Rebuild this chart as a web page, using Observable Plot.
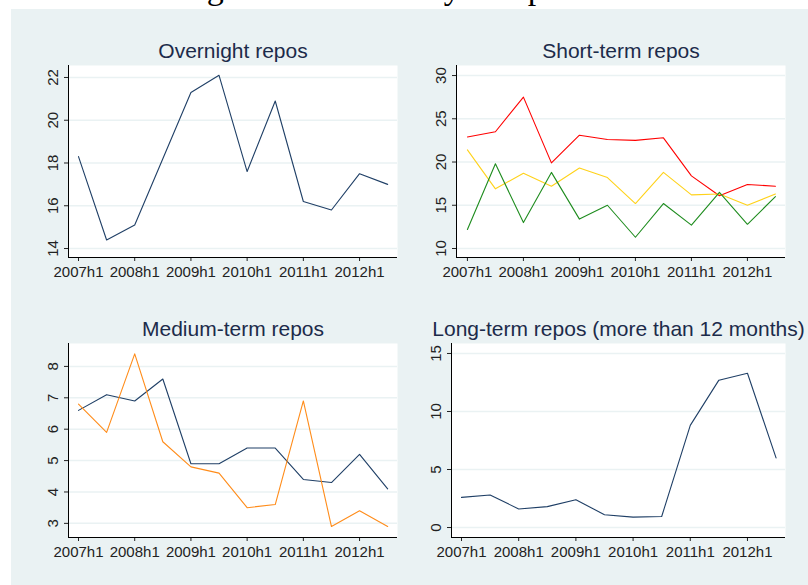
<!DOCTYPE html>
<html><head><meta charset="utf-8">
<script src="https://cdn.jsdelivr.net/npm/d3@7"></script>
<script src="https://cdn.jsdelivr.net/npm/@observablehq/plot@0.6"></script>
<style>
html,body{margin:0;padding:0;background:#fff;width:808px;height:585px;overflow:hidden;position:relative;font-family:"Liberation Sans",Arial,sans-serif}
#head{position:absolute;left:135px;top:-29px;font:34px/34px "Liberation Serif","Times New Roman",serif;color:#000;white-space:nowrap}
#bg{position:absolute;left:11px;top:9px;right:0;bottom:0;background:#eaf2f3}
.panel{position:absolute}
</style></head><body>
<div id="bg"></div>
<div id="head">Changes in the maturity composition</div>
<div id="p1" class="panel" style="left:0;top:20px"></div>
<div id="p2" class="panel" style="left:404px;top:20px"></div>
<div id="p3" class="panel" style="left:0;top:300px"></div>
<div id="p4" class="panel" style="left:404px;top:300px"></div>
<script>
const periods = ["2007h1","2007h2","2008h1","2008h2","2009h1","2009h2","2010h1","2010h2","2011h1","2011h2","2012h1","2012h2"];
const xTickLabels = ["2007h1","2008h1","2009h1","2010h1","2011h1","2012h1"];

const overnight    = [18.3, 14.4, 15.1, 18.2, 21.3, 22.1, 17.6, 20.9, 16.2, 15.8, 17.5, 17.0];
const shortRed     = [22.9, 23.5, 27.5, 19.9, 23.1, 22.6, 22.5, 22.8, 18.4, 16.1, 17.4, 17.2];
const shortYellow  = [21.4, 16.9, 18.7, 17.2, 19.3, 18.2, 15.2, 18.8, 16.2, 16.3, 15.0, 16.3];
const shortGreen   = [12.2, 19.8, 13.0, 18.8, 13.4, 15.0, 11.3, 15.2, 12.7, 16.5, 12.8, 16.0];
const mediumNavy   = [6.6, 7.1, 6.9, 7.6, 4.9, 4.9, 5.4, 5.4, 4.4, 4.3, 5.2, 4.1];
const mediumOrange = [6.8, 5.9, 8.4, 5.6, 4.8, 4.6, 3.5, 3.6, 6.9, 2.9, 3.4, 2.9];
const longTerm     = [2.6, 2.8, 1.6, 1.8, 2.4, 1.1, 0.9, 0.95, 8.8, 12.7, 13.3, 6.0];

const titles = ["Overnight repos", "Short-term repos", "Medium-term repos", "Long-term repos (more than 12 months)"];
const yTicks1 = [14, 16, 18, 20, 22];
const yTicks2 = [10, 15, 20, 25, 30];
const yTicks3 = [3, 4, 5, 6, 7, 8];
const yTicks4 = [0, 5, 10, 15];

const NAVY = "#1f3f66", RED = "#ff0000", GOLD = "#ffd21a", GREEN = "#1e8c1e", ORANGE = "#ff8c1a";
const tickIdx = xTickLabels.map(l => periods.indexOf(l));

function panel(id, {title, series, yDomain, yTicks, xDomain, width, height, margins}) {
  const chart = Plot.plot({
    width, height, ...margins,
    style: {background: "transparent", overflow: "visible", fontFamily: "Liberation Sans, Arial, sans-serif"},
    x: {domain: xDomain},
    y: {domain: yDomain},
    marks: [
      Plot.frame({fill: "white", stroke: null}),
      Plot.gridY(yTicks, {stroke: "#eaf2f3", strokeOpacity: 1, strokeWidth: 1.5}),
      Plot.axisY(yTicks, {tickSize: 4, tickRotate: -90, fontSize: 15, tickPadding: 7, color: "#222", label: null}),
      Plot.axisX(tickIdx, {tickSize: 4, tickPadding: 5, fontSize: 15, color: "#222", label: null, tickFormat: i => periods[i]}),
      ...series.map(s => Plot.line(s.values, {x: (d, i) => i, y: d => d, stroke: s.color, strokeWidth: 1.1})),
      Plot.ruleX([xDomain[0]], {stroke: "#000"}),
      Plot.ruleY([yDomain[0]], {stroke: "#000"}),
      Plot.text([title], {frameAnchor: "top", lineAnchor: "bottom", dy: -8, fontSize: 21, fill: "#1c2b4a"})
    ]
  });
  document.getElementById(id).appendChild(chart);
}

panel("p1", {title: titles[0], series: [{values: overnight, color: NAVY}],
  yDomain: [13.58, 22.56], yTicks: yTicks1, xDomain: [-0.356, 11.35], width: 404, height: 280,
  margins: {marginLeft: 68, marginRight: 7, marginTop: 45, marginBottom: 43}});
panel("p2", {title: titles[1], series: [{values: shortRed, color: RED}, {values: shortYellow, color: GOLD}, {values: shortGreen, color: GREEN}],
  yDomain: [8.96, 31.16], yTicks: yTicks2, xDomain: [-0.39, 11.36], width: 404, height: 280,
  margins: {marginLeft: 52, marginRight: 23, marginTop: 45, marginBottom: 43}});
panel("p3", {title: titles[2], series: [{values: mediumNavy, color: NAVY}, {values: mediumOrange, color: ORANGE}],
  yDomain: [2.55, 8.73], yTicks: yTicks3, xDomain: [-0.356, 11.35], width: 404, height: 285,
  margins: {marginLeft: 68, marginRight: 7, marginTop: 43, marginBottom: 48}});
panel("p4", {title: titles[3], series: [{values: longTerm, color: NAVY}],
  yDomain: [-0.86, 15.86], yTicks: yTicks4, xDomain: [-0.35, 11.33], width: 404, height: 285,
  margins: {marginLeft: 47, marginRight: 23, marginTop: 43, marginBottom: 48}});
</script>
</body></html>
